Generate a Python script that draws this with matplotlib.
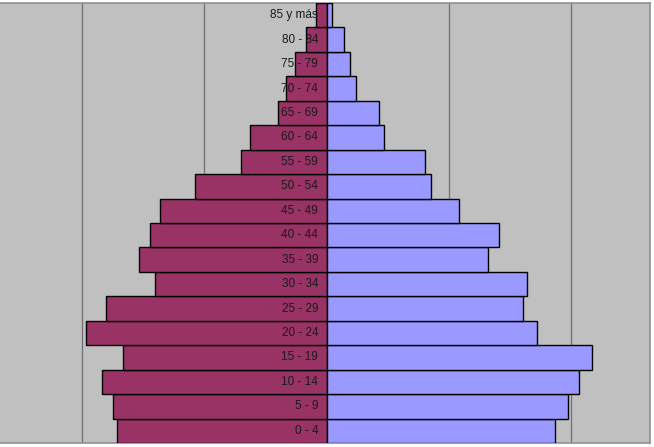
import matplotlib
matplotlib.use("Agg")
import matplotlib.pyplot as plt

age_groups = ["0 - 4", "5 - 9", "10 - 14", "15 - 19", "20 - 24", "25 - 29",
              "30 - 34", "35 - 39", "40 - 44", "45 - 49", "50 - 54", "55 - 59",
              "60 - 64", "65 - 69", "70 - 74", "75 - 79", "80 - 84", "85 y más"]
left_values = [1717, 1744, 1837, 1662, 1966, 1802, 1401, 1537, 1445, 1363,
               1079, 703, 630, 398, 333, 257, 167, 87]
right_values = [1864, 1973, 2063, 2167, 1717, 1601, 1638, 1321, 1406, 1079,
                853, 804, 471, 425, 237, 193, 141, 41]
grid_ticks = [-2000, -1000, 0, 1000, 2000]

W, H = 654, 447
fig = plt.figure(figsize=(W / 100, H / 100), dpi=100)
fig.patch.set_facecolor("white")
ax = fig.add_axes([0 / W, 4 / H, 650 / W, 440 / H])
ax.set_facecolor("#C0C0C0")

y = list(range(len(age_groups)))
ax.barh(y, [-v for v in left_values], height=1.0, color="#993366",
        edgecolor="black", linewidth=1.0, zorder=3)
ax.barh(y, right_values, height=1.0, color="#9999FF",
        edgecolor="black", linewidth=1.0, zorder=3)

for yi, lab in zip(y, age_groups):
    ax.text(-70, yi, lab, ha="right", va="center", fontsize=8.5,
            family=["Liberation Sans", "DejaVu Sans"], color="#1a1a1a", zorder=5)

ax.set_xlim(-2671, 2643)
ax.set_ylim(-0.5, len(age_groups) - 0.5)
ax.set_xticks(grid_ticks)
ax.set_yticks([])
ax.tick_params(axis="x", length=0, labelbottom=False)
ax.grid(axis="x", color="#707070", linewidth=0.9, zorder=1)
ax.set_axisbelow(True)
for side in ["top", "right", "bottom"]:
    ax.spines[side].set_color("#909090")
    ax.spines[side].set_linewidth(1.2)
ax.spines["left"].set_visible(False)

fig.savefig("out.png", dpi=100)
